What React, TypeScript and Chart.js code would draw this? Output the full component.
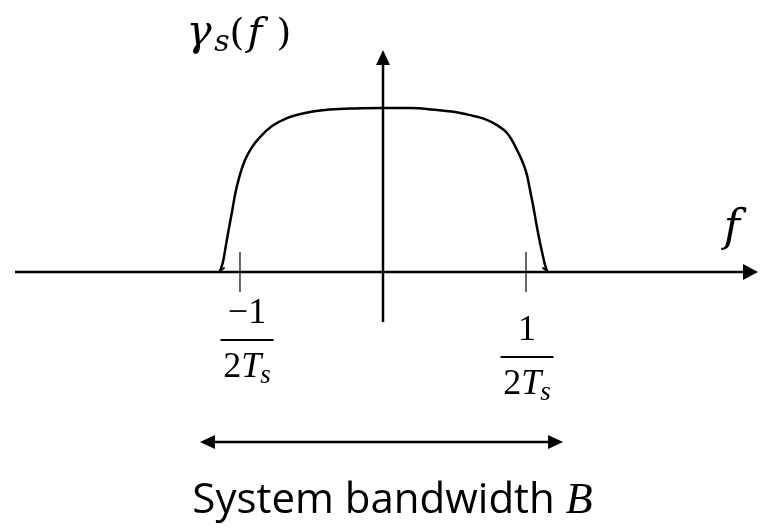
import { useEffect, useRef } from "react";
import { Chart, registerables } from "chart.js";

Chart.register(...registerables);

// Normalised frequency (f · 2Ts): the band edges ±1/(2Ts) sit at ±1.
const freq = [
  -1.14, -1.119, -1.098, -1.077, -1.056, -1.035, -1.007, -0.965, -0.916, -0.86,
  -0.776, -0.671, -0.545, -0.371, -0.196, 0,
  0.189, 0.378, 0.503, 0.608, 0.713, 0.797, 0.867, 0.909, 0.944, 0.979,
  1.007, 1.028, 1.049, 1.07, 1.091, 1.112, 1.133, 1.147,
];
// Power spectral density γs(f), normalised to its flat top.
const gamma = [
  0.006, 0.061, 0.165, 0.268, 0.366, 0.47, 0.573, 0.683, 0.762, 0.823,
  0.89, 0.939, 0.97, 0.991, 0.998, 1.0,
  1.0, 0.988, 0.976, 0.957, 0.933, 0.896, 0.848, 0.793, 0.732, 0.665,
  0.591, 0.5, 0.409, 0.305, 0.207, 0.122, 0.043, 0.006,
];
// Band-edge ticks and their fraction labels (numerator over "2Ts").
const edgeTicks = [-1, 1];
const edgeNumerators = ["\u22121", "1"];
// Double arrow marking the system bandwidth B.
const bandwidthSpan = [-1.28, 1.259];

// Scale ranges and annotation geometry (data units).
const X_MIN = -2.678;
const X_MAX = 2.699;
const Y_MIN = -1.567;
const Y_MAX = 1.659;
const AXIS_X_FROM = -2.573;
const AXIS_X_TO = 2.622;
const AXIS_Y_FROM = -0.305;
const AXIS_Y_TO = 1.354;
const TICK_HALF = 0.122;
const BANDWIDTH_Y = -1.037;

const SERIF = '"Liberation Serif", "DejaVu Serif", serif';
const MATH = '"DejaVu Serif", "Liberation Serif", serif';
const SANS = '"Open Sans", "Noto Sans", sans-serif';

function arrowHead(ctx: CanvasRenderingContext2D, tipX: number, tipY: number, dx: number, dy: number, len: number, half: number) {
  const bx = tipX - dx * len;
  const by = tipY - dy * len;
  ctx.beginPath();
  ctx.moveTo(tipX, tipY);
  ctx.lineTo(bx - dy * half, by + dx * half);
  ctx.lineTo(bx + dy * half, by - dx * half);
  ctx.closePath();
  ctx.fill();
}

type Run = { t: string; size: number; italic?: boolean; dy?: number; family?: string; pad?: number };

function drawRuns(ctx: CanvasRenderingContext2D, runs: Run[], x: number, y: number, center: boolean) {
  const fontOf = (r: Run) => `${r.italic ? "italic " : ""}${r.size}px ${r.family || SERIF}`;
  const widths = runs.map((r) => {
    ctx.font = fontOf(r);
    return ctx.measureText(r.t).width + (r.pad || 0);
  });
  const total = widths.reduce((a, b) => a + b, 0);
  let cx = center ? x - total / 2 : x;
  ctx.textAlign = "left";
  ctx.textBaseline = "alphabetic";
  runs.forEach((r, i) => {
    ctx.font = fontOf(r);
    ctx.fillText(r.t, cx, y + (r.dy || 0));
    cx += widths[i];
  });
  return total;
}

const diagramPlugin = {
  id: "spectrumDiagram",
  beforeDatasetsDraw(chart: any) {
    const ctx: CanvasRenderingContext2D = chart.ctx;
    const xs = chart.scales.x;
    const ys = chart.scales.y;
    const x0 = xs.getPixelForValue(0);
    const y0 = ys.getPixelForValue(0);
    ctx.save();
    ctx.strokeStyle = "#000";
    ctx.fillStyle = "#000";
    ctx.lineCap = "butt";

    // frequency axis
    const hxFrom = xs.getPixelForValue(AXIS_X_FROM);
    const hxTo = xs.getPixelForValue(AXIS_X_TO);
    ctx.lineWidth = 2.5;
    ctx.beginPath();
    ctx.moveTo(hxFrom, y0);
    ctx.lineTo(hxTo - 10, y0);
    ctx.stroke();
    arrowHead(ctx, hxTo, y0, 1, 0, 15, 8);

    // spectrum axis
    const vyFrom = ys.getPixelForValue(AXIS_Y_FROM);
    const vyTo = ys.getPixelForValue(AXIS_Y_TO);
    ctx.beginPath();
    ctx.moveTo(x0, vyFrom);
    ctx.lineTo(x0, vyTo + 10);
    ctx.stroke();
    arrowHead(ctx, x0, vyTo, 0, -1, 15, 7);

    // band-edge ticks
    ctx.lineWidth = 1.2;
    edgeTicks.forEach((t) => {
      const px = xs.getPixelForValue(t);
      ctx.beginPath();
      ctx.moveTo(px, ys.getPixelForValue(TICK_HALF));
      ctx.lineTo(px, ys.getPixelForValue(-TICK_HALF));
      ctx.stroke();
    });
    ctx.restore();
  },
  afterDatasetsDraw(chart: any) {
    const ctx: CanvasRenderingContext2D = chart.ctx;
    const xs = chart.scales.x;
    const ys = chart.scales.y;
    const y0 = ys.getPixelForValue(0);
    ctx.save();
    ctx.strokeStyle = "#000";
    ctx.fillStyle = "#000";

    // small hooks at the feet of the curve
    const first = { x: xs.getPixelForValue(freq[0]), y: ys.getPixelForValue(gamma[0]) };
    const last = {
      x: xs.getPixelForValue(freq[freq.length - 1]),
      y: ys.getPixelForValue(gamma[gamma.length - 1]),
    };
    ctx.lineWidth = 2;
    ctx.lineCap = "round";
    ctx.beginPath();
    ctx.moveTo(first.x, first.y);
    ctx.lineTo(first.x + 4, first.y - 3);
    ctx.moveTo(last.x, last.y);
    ctx.lineTo(last.x - 4, last.y - 3);
    ctx.stroke();

    // band-edge fraction labels
    const drops = [0, 17];
    const shifts = [7, 1];
    edgeTicks.forEach((t, i) => {
      const cx = xs.getPixelForValue(t) + shifts[i];
      const top = y0 + drops[i];
      drawRuns(ctx, [{ t: edgeNumerators[i], size: 36 }], cx, top + 51, true);
      ctx.lineWidth = 2;
      ctx.lineCap = "butt";
      ctx.beginPath();
      ctx.moveTo(cx - 26.5, top + 68);
      ctx.lineTo(cx + 26.5, top + 68);
      ctx.stroke();
      drawRuns(
        ctx,
        [
          { t: "2", size: 36 },
          { t: "T", size: 36, italic: true, pad: -1 },
          { t: "s", size: 27, italic: true, dy: 6 },
        ],
        cx,
        top + 105,
        true
      );
    });

    // f label at the end of the frequency axis
    drawRuns(ctx, [{ t: "f", size: 44, italic: true, family: MATH }], xs.getPixelForValue(AXIS_X_TO) - 26, y0 - 31, true);

    // γs(f) label above the spectrum axis, glyphs spaced like math type
    const gx = xs.getPixelForValue(0) - 200;
    const gy = 45;
    const glyphs: [string, number, boolean, number, number][] = [
      ["\u03b3", 42, true, 16, 0],
      ["s", 30, true, 39, 6],
      ["(", 38, false, 54, 0],
      ["f", 40, true, 72, 0],
      [")", 38, false, 101, 0],
    ];
    glyphs.forEach(([t, size, italic, off, dy]) => {
      drawRuns(ctx, [{ t, size, italic, dy, family: MATH }], gx + off, gy, true);
    });

    // system bandwidth double arrow
    const bx1 = xs.getPixelForValue(bandwidthSpan[0]);
    const bx2 = xs.getPixelForValue(bandwidthSpan[1]);
    const by = ys.getPixelForValue(BANDWIDTH_Y);
    ctx.lineWidth = 2.5;
    ctx.lineCap = "butt";
    ctx.beginPath();
    ctx.moveTo(bx1 + 10, by);
    ctx.lineTo(bx2 - 10, by);
    ctx.stroke();
    arrowHead(ctx, bx1, by, -1, 0, 15, 7);
    arrowHead(ctx, bx2, by, 1, 0, 15, 7);

    drawRuns(
      ctx,
      [
        { t: "System bandwidth ", size: 42, family: SANS },
        { t: "B", size: 44, italic: true },
      ],
      (bx1 + bx2) / 2 + 11,
      by + 71,
      true
    );
    ctx.restore();
  },
};

export default function App() {
  const canvasRef = useRef<HTMLCanvasElement | null>(null);

  useEffect(() => {
    const canvas = canvasRef.current;
    if (!canvas) return;
    const chart = new Chart(canvas, {
      type: "line",
      data: {
        datasets: [
          {
            data: freq.map((f, i) => ({ x: f, y: gamma[i] })),
            borderColor: "#000",
            borderWidth: 2.5,
            pointRadius: 0,
            fill: false,
            cubicInterpolationMode: "monotone",
          },
        ],
      },
      options: {
        responsive: false,
        animation: false,
        events: [],
        layout: { padding: 0 },
        plugins: { legend: { display: false }, tooltip: { enabled: false } },
        scales: {
          x: { type: "linear", min: X_MIN, max: X_MAX, display: false },
          y: { type: "linear", min: Y_MIN, max: Y_MAX, display: false },
        },
      },
      plugins: [diagramPlugin],
    } as any);
    return () => chart.destroy();
  }, []);

  return (
    <div style={{ position: "fixed", left: 0, top: 0, width: 769, height: 529, background: "#fff" }}>
      <canvas ref={canvasRef} width={769} height={529} style={{ display: "block" }} />
    </div>
  );
}
